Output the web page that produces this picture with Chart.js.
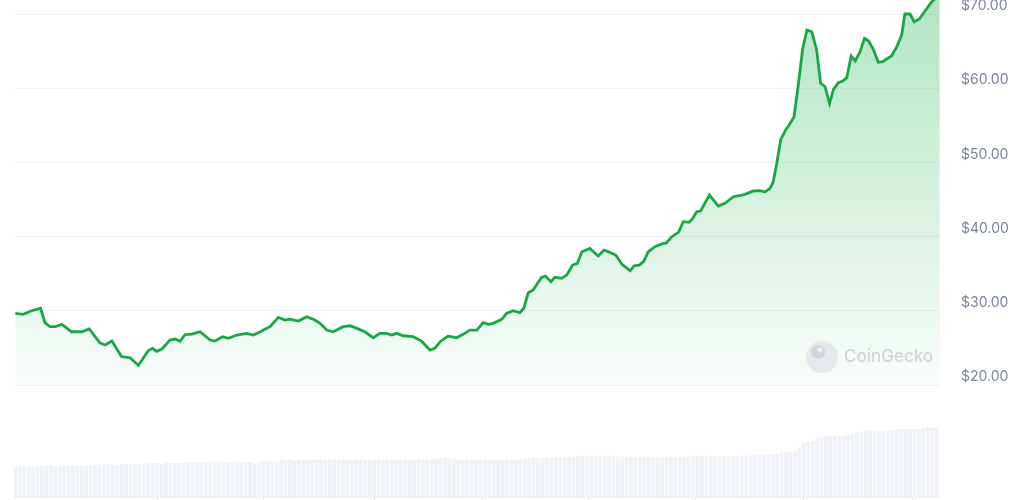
<!DOCTYPE html>
<html>
<head>
<meta charset="utf-8">
<title>Price chart</title>
<script src="https://cdn.jsdelivr.net/npm/chart.js@4.4.1/dist/chart.umd.min.js"></script>
<style>
  body { margin: 0; background: #ffffff; }
  #wrap { position: relative; width: 1024px; height: 500px; }
</style>
</head>
<body>
<div id="wrap"><canvas id="price-chart"></canvas></div>
<script>
// price line (day index, USD)
var priceDays = [0, 1.8, 3.7, 5.7, 6.7, 7.8, 9, 10.5, 12.7, 15, 16.7, 19.1, 20.3, 21.8, 24, 25.9, 27.8, 30, 31, 31.9,
    33.1, 34.9, 36.1, 37.2, 38.3, 39.8, 41.7, 44, 45.1, 46.8, 48.1, 50, 52.2, 53.7, 55.2, 56, 57.5, 59.4, 60.9, 62,
    63.9, 65.8, 67.3, 68.8, 70.3, 71.8, 74, 75.6, 77.1, 78.9, 80.8, 82.3, 83.8, 85, 86.1, 87.6, 89.8, 91.7, 93.6, 94.7,
    95.9, 97.7, 99.6, 101.1, 102.6, 104.2, 105.6, 106.8, 107.9, 109.8, 110.9, 112.4, 113.9, 114.8, 115.8, 116.9, 118.8, 119.7, 120.9, 121.8,
    123.3, 124.5, 125.8, 126.9, 127.9, 129.7, 131.6, 132.9, 134.2, 135.6, 136.9, 138.8, 139.7, 140.9, 141.9, 142.9, 144.4, 146.3, 146.9, 148.2,
    149.7, 150.8, 152.1, 152.8, 153.8, 154.7, 156.7, 158.7, 160.2, 162.1, 163.4, 164.7, 166.6, 168.1, 169.2, 170.4, 171.1, 171.9, 172.8, 173.9,
    174.7, 175.8, 176.8, 177.7, 178.7, 179.8, 180.9, 181.8, 182.8, 183.8, 184.7, 185.8, 186.8, 187.7, 188.7, 189.6, 190.7, 191.7, 192.6, 193.7,
    194.8, 195.8, 196.7, 197.8, 199, 200.1, 200.8, 202, 202.9, 204.1, 205.4, 206.9, 208.7];
var priceValues = [29.66, 29.53, 30.01, 30.34, 28.40, 27.86, 27.86, 28.18, 27.18, 27.18, 27.55, 25.70, 25.39, 25.93, 23.81, 23.68, 22.65, 24.62, 24.95, 24.54,
    24.85, 26.06, 26.20, 25.89, 26.78, 26.87, 27.18, 26.06, 25.93, 26.51, 26.29, 26.74, 26.97, 26.74, 27.14, 27.41, 27.86, 29.12, 28.76, 28.89,
    28.63, 29.20, 28.85, 28.32, 27.41, 27.18, 27.86, 27.99, 27.64, 27.18, 26.37, 26.97, 26.97, 26.74, 26.97, 26.64, 26.51, 25.93, 24.72, 24.95,
    25.84, 26.60, 26.37, 26.83, 27.41, 27.41, 28.40, 28.18, 28.32, 28.85, 29.66, 30.01, 29.74, 30.34, 32.44, 32.80, 34.51, 34.69, 33.92, 34.51,
    34.38, 34.82, 36.17, 36.40, 37.96, 38.42, 37.39, 38.19, 37.88, 37.48, 36.31, 35.40, 36.08, 36.17, 36.71, 37.96, 38.64, 39.10, 39.12, 39.99,
    40.58, 42.01, 41.93, 42.33, 43.36, 43.45, 45.61, 44.12, 44.49, 45.38, 45.51, 45.70, 46.15, 46.19, 46.01, 46.51, 47.40, 49.88, 53.11, 54.37,
    55.04, 56.16, 60.66, 65.15, 67.84, 67.61, 65.15, 60.66, 60.20, 57.96, 59.85, 60.74, 60.97, 61.42, 64.34, 63.67, 64.92, 66.73, 66.40, 65.24,
    63.49, 63.57, 63.94, 64.34, 65.59, 67.17, 70.00, 70.00, 68.96, 69.33, 70.44, 71.66, 72.70];

// daily volume (millions), one bar per day
var volumes = [30, 30, 30, 29.5, 29.5, 30,
    31, 31.3, 31.3, 30.3, 30,
    31.3, 31.3, 31, 31.3, 31.3, 31.3, 31.3, 31.3,
    32.3, 32.3, 32.3, 32.3, 31.3, 32.3, 32.3, 32.3, 32.3, 32.3, 32.3,
    33.7, 33.7, 33.7, 32.7, 33.7, 33.7, 33.7, 33.7, 33.7,
    34.5, 34.5, 34.5, 34.5, 35, 35, 35, 35, 34.5, 34.5, 35, 35, 34, 35, 35, 33.5, 34.5,
    35.5, 36, 36, 35, 36.5, 36, 37, 36, 36.5, 36.5,
    37, 37, 37.5, 37, 36.5, 37.5, 37, 37, 37.5, 37, 36.5, 37.5, 37, 36.5, 36.5,
    36.5, 37, 36.5, 37, 37.5, 37, 37, 37, 37, 37, 37.5, 37, 37, 37, 38,
    38.7, 38.7, 38.7, 38, 37,
    36.5, 36.5, 36.5, 37, 37, 37, 37, 37, 37, 37, 37, 36.5, 36, 37,
    38, 38.5, 38.5, 38.5, 39, 39, 39, 39.5, 39.5, 39.5, 39.5, 40,
    40.5, 41, 41, 41, 41, 41, 41, 41, 41, 40.5,
    40, 40, 39.5, 40, 40, 39.5, 40, 40, 40, 39.5, 39.5, 40, 40, 40, 40, 40.5,
    41, 41, 41, 41, 41, 40.5, 40.3,
    40.5, 40.5, 40.3, 41, 41, 41, 41.5, 41.5, 42, 42, 42,
    43, 43, 44.5, 44.5, 44.5, 45.5,
    49.3, 54.3, 55, 56, 58.7, 59.5, 60, 60.5, 61, 60.5, 61,
    62, 63, 64, 65, 66, 66, 66, 66, 66, 66, 66,
    67.7, 67.7, 67.7, 67.7, 67.7, 67.7, 68.3, 69.3, 69.3, 69.3];

var priceTicks = [20, 30, 40, 50, 60, 70];
var dateTickDays = [32, 56, 81, 105.5, 129.5, 153.5, 178, 202.5];

var pricePoints = priceDays.map((d, i) => ({ x: d, y: priceValues[i] }));
var volumePoints = volumes.map((v, i) => ({ x: i, y: v }));

function priceFill(context) {
    const chart = context.chart;
    const area = chart.chartArea;
    if (!area) {
        return 'rgba(22, 199, 90, 0.1)';
    }
    const bottom = chart.scales.y.getPixelForValue(20);
    let grad = chart.ctx.createLinearGradient(0, area.top, 0, bottom);
    grad.addColorStop(0, 'rgba(30, 180, 80, 0.34)');
    grad.addColorStop(1, 'rgba(30, 180, 80, 0.03)');
    return grad;
}

// faded logo + name in the lower right corner
var watermark = {
    id: 'watermark',
    afterDatasetsDraw(chart) {
        const ctx = chart.ctx;
        ctx.save();
        ctx.fillStyle = 'rgba(225, 227, 231, 0.75)';
        ctx.beginPath();
        ctx.arc(822, 357, 16, 0, Math.PI * 2);
        ctx.fill();
        ctx.fillStyle = 'rgba(205, 208, 213, 0.8)';
        ctx.beginPath();
        ctx.arc(818, 352, 7, 0, Math.PI * 2);
        ctx.fill();
        ctx.fillStyle = 'rgba(240, 241, 243, 0.9)';
        ctx.beginPath();
        ctx.arc(820, 350, 2.5, 0, Math.PI * 2);
        ctx.fill();
        ctx.fillStyle = '#d3d5d9';
        ctx.font = '500 17px Inter, "Noto Sans", sans-serif';
        ctx.textBaseline = 'middle';
        ctx.fillText('CoinGecko', 844, 357);
        ctx.restore();
    }
};

new Chart(document.getElementById('price-chart'), {
    type: 'bar',
    data: {
        datasets: [{
            type: 'line',
            label: 'Price',
            data: pricePoints,
            yAxisID: 'y',
            borderColor: '#17a844',
            borderWidth: 2.8,
            pointRadius: 0,
            tension: 0,
            fill: { value: 20 },
            backgroundColor: priceFill,
            order: 0
        }, {
            type: 'bar',
            label: 'Volume',
            data: volumePoints,
            yAxisID: 'yv',
            backgroundColor: '#eef1f5',
            barThickness: 3,
            order: 1
        }]
    },
    options: {
        responsive: true,
        maintainAspectRatio: false,
        animation: false,
        layout: { padding: { left: 14, top: 0, right: 0, bottom: 0 } },
        plugins: {
            legend: { display: false },
            tooltip: { enabled: false }
        },
        scales: {
            x: {
                type: 'linear',
                min: -0.293,
                max: 208.745,
                offset: false,
                afterBuildTicks: (scale) => {
                    scale.ticks = dateTickDays.map(v => ({ value: v }));
                },
                afterFit: (scale) => {
                    scale.height = 3;
                    scale.paddingLeft = 0;
                    scale.paddingRight = 0;
                },
                ticks: { display: false },
                grid: { drawOnChartArea: false, drawTicks: true, tickLength: 3, color: '#e3e6eb', offset: false },
                border: { display: true, color: '#eceff3' }
            },
            y: {
                position: 'right',
                min: 4.91,
                max: 71.89,
                afterBuildTicks: (scale) => {
                    scale.ticks = priceTicks.map(v => ({ value: v }));
                },
                afterFit: (scale) => {
                    // labels sit above their lines, so no room is needed at the ends
                    scale.width = 84;
                    scale.paddingTop = 0;
                    scale.paddingBottom = 0;
                },
                ticks: {
                    padding: 21,
                    labelOffset: -8,
                    color: '#7a859a',
                    font: { family: 'Inter, "Noto Sans", sans-serif', size: 14 },
                    callback: (v) => '$' + Number(v).toFixed(2)
                },
                grid: { color: '#eff1f4', drawTicks: false },
                border: { display: false }
            },
            yv: {
                position: 'right',
                display: false,
                min: 0,
                max: 497
            }
        }
    },
    plugins: [watermark]
});
</script>
</body>
</html>
